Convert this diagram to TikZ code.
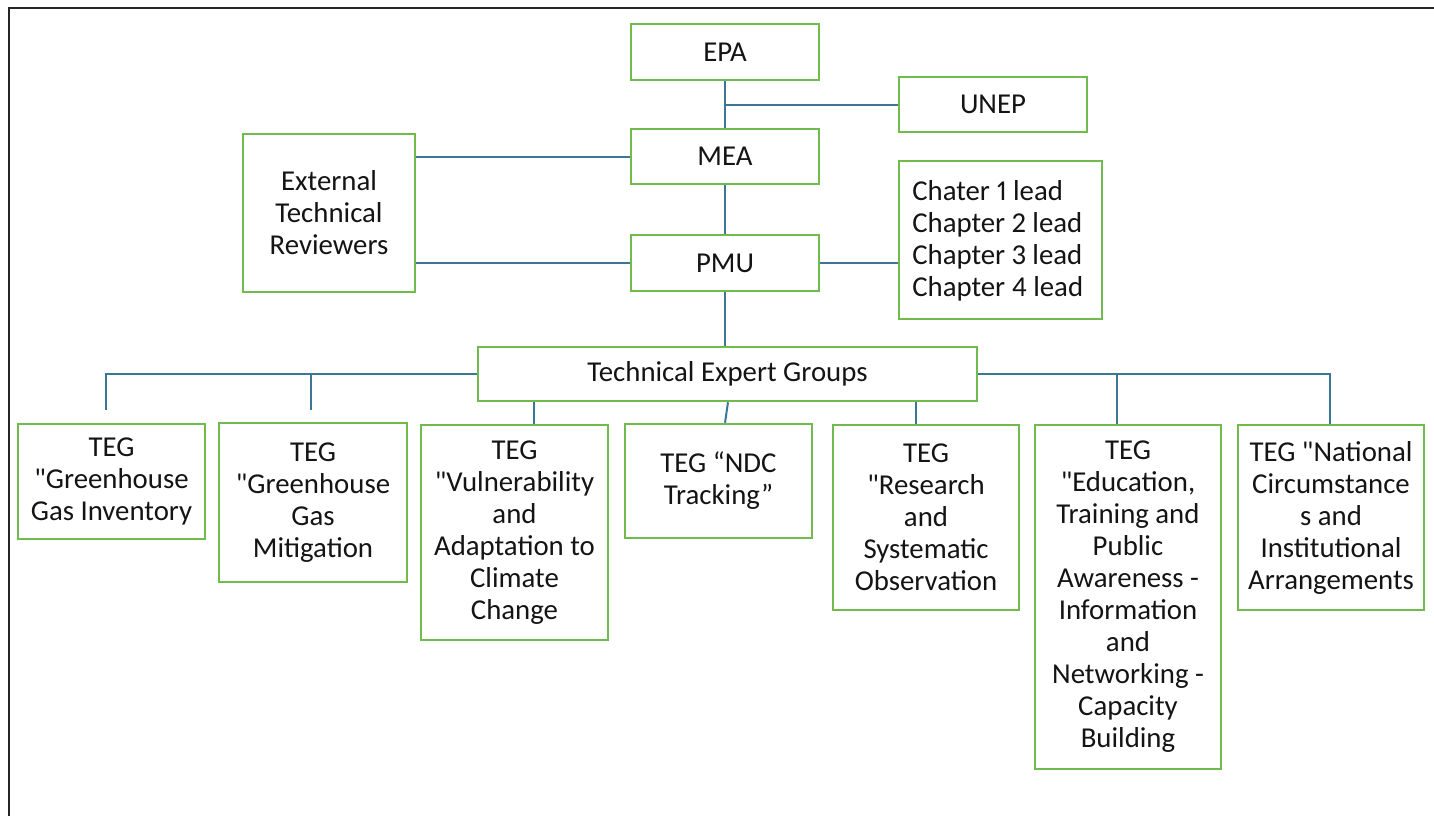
\documentclass[tikz,border=0pt]{standalone}
\usepackage{fontspec}
\setmainfont[Ligatures=TeXOff,Numbers=Proportional]{Carlito}
\definecolor{boxgreen}{RGB}{112,186,78}
\definecolor{linkblue}{RGB}{62,118,152}
\definecolor{txt}{RGB}{20,20,20}
\begin{document}
\begin{tikzpicture}[x=0.75pt,y=-0.75pt,
  lbl/.style={text=txt, inner sep=0pt, align=center, font=\fontsize{21.6}{24}\selectfont},
  bx/.style 2 args={lbl, draw=boxgreen, line width=1.9pt, fill=white,
    minimum width=#1*0.75pt, minimum height=#2*0.75pt},
  link/.style={draw=linkblue, line width=1.5pt}]
\useasboundingbox (0,0) rectangle (1434,816);
\draw[line width=2.2pt, black!85] (9,816) -- (9,8) -- (1434,8);

\node[bx={188}{56}] (epa) at (725,52) {EPA};
\node[bx={188}{55}] (unep) at (993,104.5) {UNEP};
\node[bx={188}{55}] (mea) at (725,156.5) {MEA};
\node[bx={188}{56}] (pmu) at (725,263) {PMU};
\node[bx={172}{158}] (ext) at (329,213) {External\\Technical\\Reviewers};
\node[bx={203}{158}] (chap) at (1000.5,240) {};
\node[lbl, align=left, anchor=west] (chapt) at (912,241)
  {Chater 1 lead\\Chapter 2 lead\\Chapter 3 lead\\Chapter 4 lead};
\node[bx={499}{54}] (tegs) at (727.5,374) {Technical Expert Groups};

\node[bx={187}{115}] (t1) at (111.5,481.5) {TEG\\"Greenhouse\\Gas Inventory};
\node[bx={188}{159}] (t2) at (313,502.5) {TEG\\"Greenhouse\\Gas\\Mitigation};
\node[bx={187}{215}] (t3) at (514.5,532.5) {TEG\\"Vulnerability\\and\\Adaptation to\\Climate\\Change};
\node[bx={187}{114}] (t4) at (718.5,481) {TEG “NDC\\Tracking”};
\node[bx={186}{185}] (t5) at (926,517.5) {TEG\\"Research\\and\\Systematic\\Observation};
\node[bx={186}{344}] (t6) at (1128,597) {TEG\\"Education,\\Training and\\Public\\Awareness -\\Information\\and\\Networking -\\Capacity\\Building};
\node[bx={186}{185}] (t7) at (1331,517.5) {TEG "National\\Circumstance\\s and\\Institutional\\Arrangements};

% top links
\coordinate (j1) at (725,105);
\draw[link] (epa.south) -- (mea.north);
\draw[link] (j1) -- (unep.west |- j1);
\draw[link] (mea.south) -- (pmu.north);
\coordinate (r1) at (415,157);
\coordinate (r2) at (415,263);
\draw[link] (ext.east |- r1) -- (mea.west |- r1);
\draw[link] (ext.east |- r2) -- (pmu.west |- r2);
\draw[link] (pmu.east) -- (chap.west |- pmu.east);
\draw[link] (pmu.south) -- (tegs.north -| pmu.south);

% left branch
\coordinate (d1) at (106,410);
\coordinate (d2) at (311,410);
\draw[link] (tegs.west) -- (d1 |- tegs.west) -- (d1);
\draw[link] (d2 |- tegs.west) -- (d2);
% down links
\coordinate (c3) at (534,0);
\coordinate (c4a) at (728,0);
\coordinate (c4b) at (725,0);
\coordinate (c5) at (916,0);
\draw[link] (tegs.south -| c3) -- (t3.north -| c3);
\draw[link] (tegs.south -| c4a) -- (t4.north -| c4b);
\draw[link] (tegs.south -| c5) -- (t5.north -| c5);
% right branch
\coordinate (c6) at (1117,0);
\coordinate (c7) at (1330,0);
\draw[link] (tegs.east) -- (c7 |- tegs.east) -- (t7.north -| c7);
\draw[link] (c6 |- tegs.east) -- (t6.north -| c6);
\end{tikzpicture}
\end{document}
